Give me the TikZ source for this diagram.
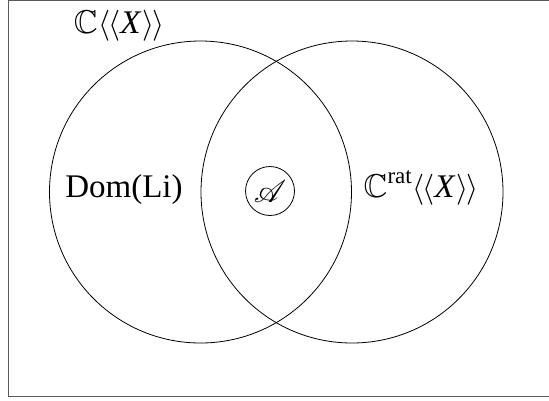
\RequirePackage{fix-cm}
\documentclass[tikz,border=0pt]{standalone}
\usepackage{amsmath,amssymb,mathrsfs,graphicx}
\usepackage{fontspec}
\setmainfont{Liberation Serif}
\newcommand{\lbr}{\resizebox*{!}{31pt}{$\langle$}}
\newcommand{\rbr}{\resizebox*{!}{31pt}{$\rangle$}}
\newcommand{\dblX}{\kern1pt\lbr\kern-2.5pt\lbr\textit{X}\kern1pt\rbr\kern-2.5pt\rbr}
\begin{document}
\begin{tikzpicture}[x=1pt,y=-1pt,
  big/.style={draw,circle,line width=0.8pt,minimum size=302pt,inner sep=0pt},
  small/.style={draw,circle,line width=0.8pt,minimum size=49pt,inner sep=0pt},
  lab/.style={inner sep=0pt,font=\fontsize{33}{38}\selectfont},
  frame/.style={line width=0.9pt,black!65}]
\useasboundingbox (0,0) rectangle (549,400);
\draw[frame] (8.5,0.5) rectangle (550,396.5);
\node[big] (L) at (200.5,192) {};
\node[big] (R) at (352,192) {};
\node[small] (A) at (270,191) {\resizebox{!}{22pt}{$\mathscr{A}$}};
\node[lab] (C) at (119,26) {$\mathbb{C}$\dblX};
\node[lab] (dom) at (124,190) {Dom(Li)};
\node[lab] (rat) at (421,188) {$\mathbb{C}$\raisebox{0.42em}{\fontsize{23}{26}\selectfont rat}\dblX};
\end{tikzpicture}
\end{document}
